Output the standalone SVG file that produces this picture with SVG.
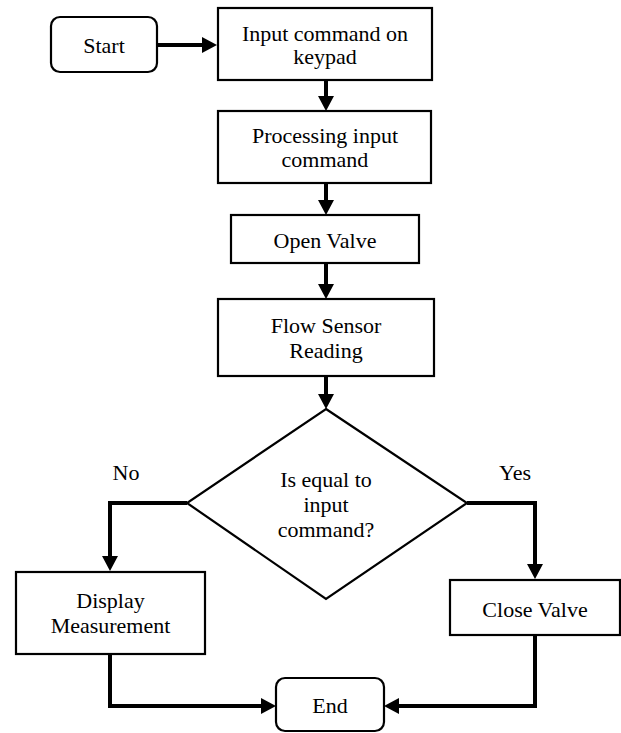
<svg xmlns="http://www.w3.org/2000/svg" width="621" height="733" viewBox="0 0 621 733">
<style>
.box{fill:#fff;stroke:#000;stroke-width:2.2}
.t{font-family:"Liberation Serif",serif;font-size:22px;fill:#000;text-anchor:middle}
.c{fill:none;stroke:#000;stroke-width:4;stroke-linejoin:miter}
</style>
<defs>
<marker id="ah" markerUnits="userSpaceOnUse" markerWidth="15" markerHeight="16" refX="8" refY="8" orient="auto">
<path d="M0,0 L15,8 L0,16 z" fill="#000"/>
</marker>
</defs>
<rect width="621" height="733" fill="#fff"/>
<g id="connectors">
<path class="c" d="M158,45 H210" marker-end="url(#ah)"/>
<path class="c" d="M326,80 V104" marker-end="url(#ah)"/>
<path class="c" d="M326,183 V208" marker-end="url(#ah)"/>
<path class="c" d="M326,263 V292" marker-end="url(#ah)"/>
<path class="c" d="M326,376 V402" marker-end="url(#ah)"/>
<path class="c" d="M187,503 H110 V564" marker-end="url(#ah)"/>
<path class="c" d="M467,503 H535 V572" marker-end="url(#ah)"/>
<path class="c" d="M110,654 V706 H269" marker-end="url(#ah)"/>
<path class="c" d="M535,635 V706 H391" marker-end="url(#ah)"/>
</g>
<g id="start"><rect class="box" x="51" y="17" width="106" height="55" rx="9"/><text class="t" x="104" y="53">Start</text></g>
<g id="input"><rect class="box" x="218" y="8" width="214" height="72"/><text class="t" x="325" y="41">Input command on</text><text class="t" x="325" y="64">keypad</text></g>
<g id="process"><rect class="box" x="218" y="111" width="213" height="72"/><text class="t" x="325" y="143">Processing input</text><text class="t" x="325" y="167">command</text></g>
<g id="open"><rect class="box" x="231" y="215" width="188" height="48"/><text class="t" x="325" y="248">Open Valve</text></g>
<g id="flow"><rect class="box" x="218" y="299" width="216" height="77"/><text class="t" x="326" y="333">Flow Sensor</text><text class="t" x="326" y="358">Reading</text></g>
<g id="decision"><polygon class="box" points="326,409 467,503 326,599 187,503"/><text class="t" x="326" y="487">Is equal to</text><text class="t" x="326" y="512">input</text><text class="t" x="326" y="537">command?</text></g>
<g id="label-no"><text class="t" x="126" y="480">No</text></g>
<g id="label-yes"><text class="t" x="515" y="480">Yes</text></g>
<g id="display"><rect class="box" x="16" y="572" width="189" height="82"/><text class="t" x="110.5" y="608">Display</text><text class="t" x="110.5" y="633">Measurement</text></g>
<g id="close"><rect class="box" x="450" y="580" width="170" height="55"/><text class="t" x="535" y="617">Close Valve</text></g>
<g id="end"><rect class="box" x="276" y="678" width="108" height="53" rx="9"/><text class="t" x="330" y="713">End</text></g>
</svg>
